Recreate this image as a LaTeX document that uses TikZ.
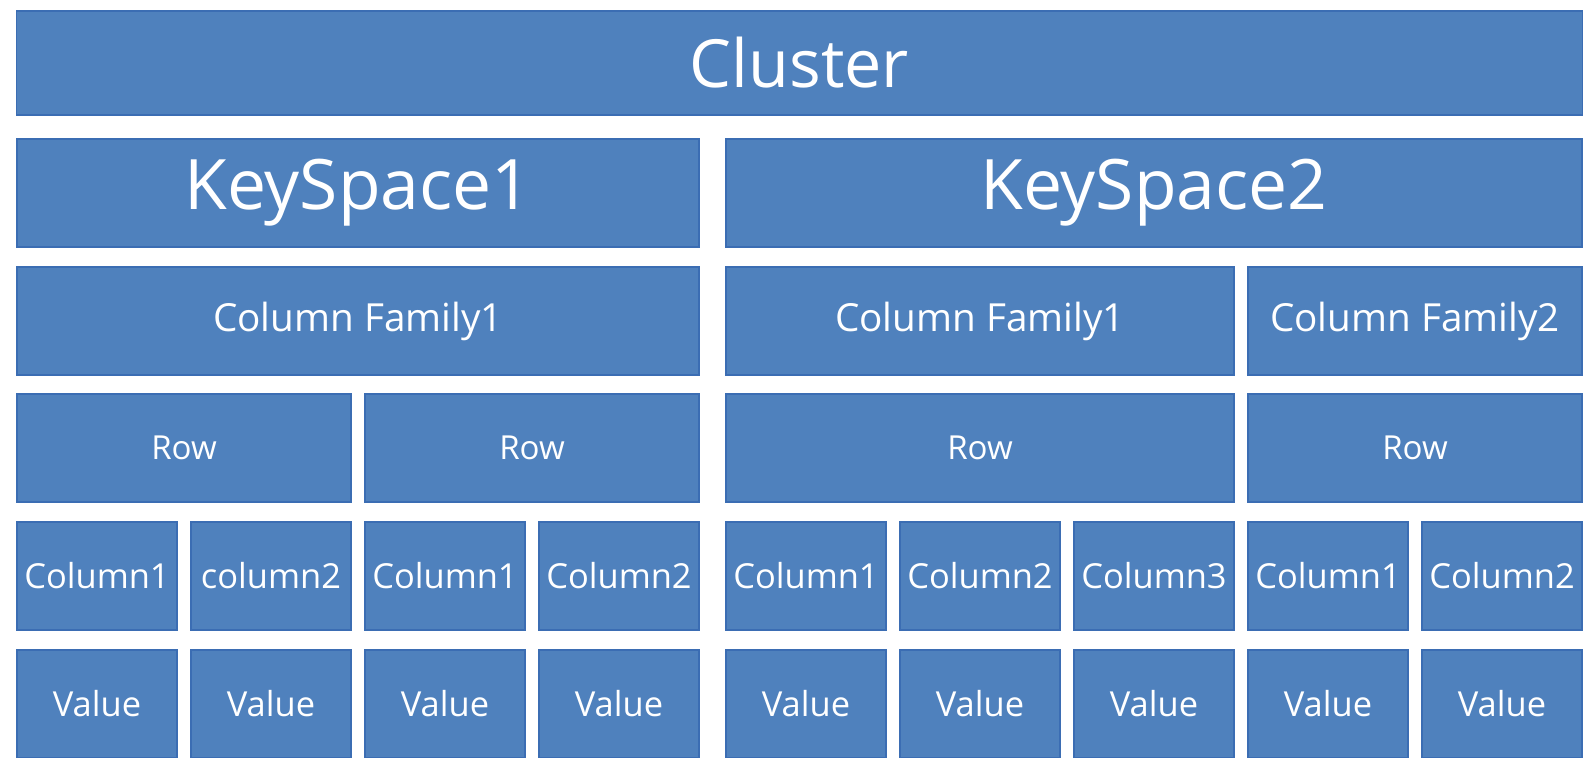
\documentclass[tikz,border=0pt]{standalone}
\usepackage{fontspec}
\setmainfont{Open Sans}
\definecolor{cellblue}{HTML}{4F81BD}
\definecolor{cellline}{HTML}{3B6DB3}
\tikzset{
  cell/.style={rectangle, draw=cellline, line width=0.5pt, fill=cellblue,
    text=white, inner sep=0pt, minimum height=1.08cm},
  leaf/.style={cell, minimum width=1.60cm, font=\fontsize{9.8}{11}\selectfont},
}

\begin{document}
\begin{tikzpicture}[x=0.01cm, y=-0.01cm]
		\clip (0,0) rectangle (1585,757);
		\fill[white] (0,0) rectangle (1585,757);
		
		%cluster and keyspaces
		\node[cell, minimum width=15.65cm, minimum height=1.04cm, font=\fontsize{18.9}{22}\selectfont] (cluster) at (799.5,63) {Cluster};
		\node[cell, minimum width=6.82cm, font=\fontsize{19.8}{22}\selectfont] (ks1) at (358,193) {KeySpace1};
		\node[cell, minimum width=8.56cm, font=\fontsize{19.8}{22}\selectfont] (ks2) at (1154,193) {KeySpace2};
		
		%column families
		\node[cell, minimum width=6.82cm, font=\fontsize{11}{13}\selectfont] (cf11) at (358,321) {Column Family1};
		\node[cell, minimum width=5.08cm, font=\fontsize{11}{13}\selectfont] (cf21) at (980,321) {Column Family1};
		\node[cell, minimum width=3.34cm, font=\fontsize{11}{13}\selectfont] (cf22) at (1415,321) {Column Family2};
		
		%rows
		\foreach \x/\w [count=\i] in {184/3.34, 532/3.34, 980/5.08, 1415/3.34}{
			\node[cell, minimum width=\w cm, font=\fontsize{9.4}{11}\selectfont] (row\i) at (\x,448) {Row};
		}
		
		%columns and values
		\foreach \x/\t [count=\i] in {97/Column1, 271/column2, 445/Column1, 619/Column2,
			806/Column1, 980/Column2, 1154/Column3, 1328/Column1, 1502/Column2}{
			\node[leaf] (col\i) at (\x,576) {\t};
			\node[leaf] (val\i) at (\x,704) {Value};
		}
\end{tikzpicture}
\end{document}
